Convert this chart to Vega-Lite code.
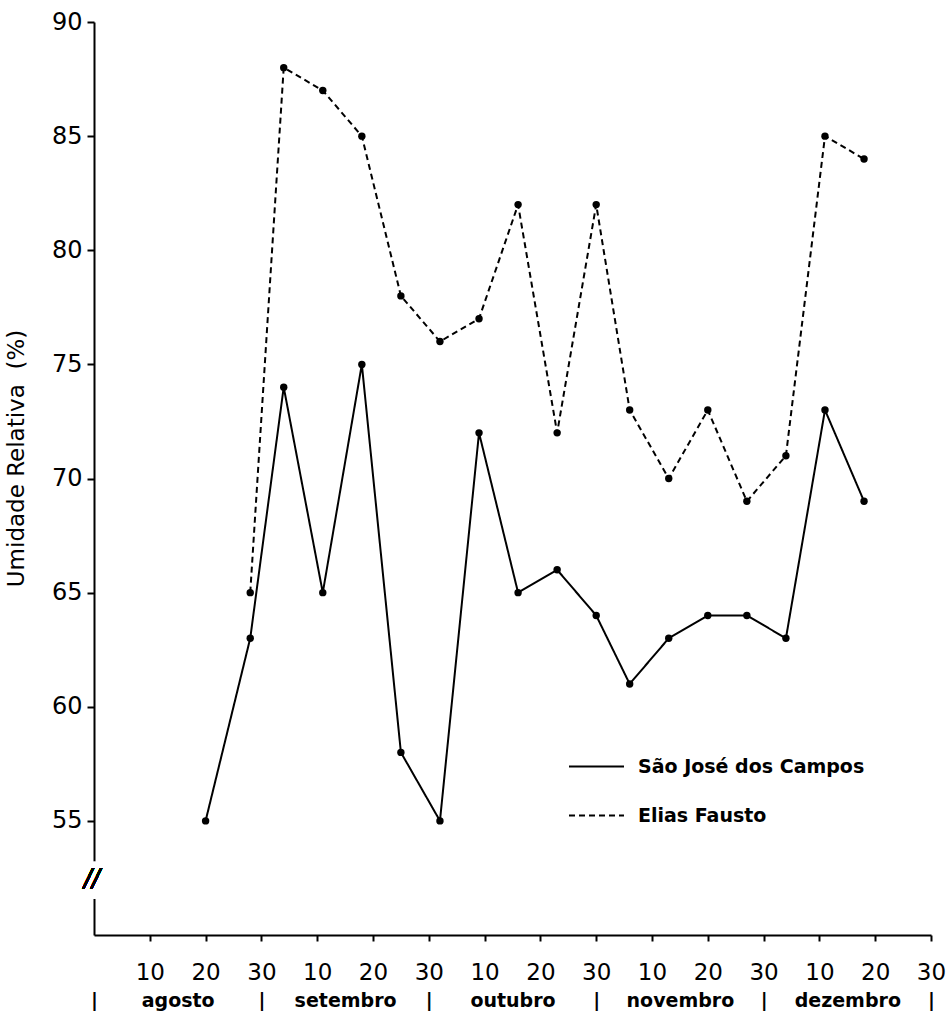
{
  "$schema": "https://vega.github.io/schema/vega-lite/v6.json",
  "width": 837,
  "height": 913,
  "autosize": "none",
  "padding": {"left": 94, "top": 22, "right": 21, "bottom": 76},
  "background": "white",
  "config": {"view": {"stroke": null}, "font": "DejaVu Sans"},
  "data": {
    "values": [
      {"station": "São José dos Campos", "day": 20, "umidade": 55},
      {"station": "São José dos Campos", "day": 28, "umidade": 63},
      {"station": "São José dos Campos", "day": 34, "umidade": 74},
      {"station": "São José dos Campos", "day": 41, "umidade": 65},
      {"station": "São José dos Campos", "day": 48, "umidade": 75},
      {"station": "São José dos Campos", "day": 55, "umidade": 58},
      {"station": "São José dos Campos", "day": 62, "umidade": 55},
      {"station": "São José dos Campos", "day": 69, "umidade": 72},
      {"station": "São José dos Campos", "day": 76, "umidade": 65},
      {"station": "São José dos Campos", "day": 83, "umidade": 66},
      {"station": "São José dos Campos", "day": 90, "umidade": 64},
      {"station": "São José dos Campos", "day": 96, "umidade": 61},
      {"station": "São José dos Campos", "day": 103, "umidade": 63},
      {"station": "São José dos Campos", "day": 110, "umidade": 64},
      {"station": "São José dos Campos", "day": 117, "umidade": 64},
      {"station": "São José dos Campos", "day": 124, "umidade": 63},
      {"station": "São José dos Campos", "day": 131, "umidade": 73},
      {"station": "São José dos Campos", "day": 138, "umidade": 69},
      {"station": "Elias Fausto", "day": 28, "umidade": 65},
      {"station": "Elias Fausto", "day": 34, "umidade": 88},
      {"station": "Elias Fausto", "day": 41, "umidade": 87},
      {"station": "Elias Fausto", "day": 48, "umidade": 85},
      {"station": "Elias Fausto", "day": 55, "umidade": 78},
      {"station": "Elias Fausto", "day": 62, "umidade": 76},
      {"station": "Elias Fausto", "day": 69, "umidade": 77},
      {"station": "Elias Fausto", "day": 76, "umidade": 82},
      {"station": "Elias Fausto", "day": 83, "umidade": 72},
      {"station": "Elias Fausto", "day": 90, "umidade": 82},
      {"station": "Elias Fausto", "day": 96, "umidade": 73},
      {"station": "Elias Fausto", "day": 103, "umidade": 70},
      {"station": "Elias Fausto", "day": 110, "umidade": 73},
      {"station": "Elias Fausto", "day": 117, "umidade": 69},
      {"station": "Elias Fausto", "day": 124, "umidade": 71},
      {"station": "Elias Fausto", "day": 131, "umidade": 85},
      {"station": "Elias Fausto", "day": 138, "umidade": 84}
    ]
  },
  "resolve": {"axis": {"x": "independent"}},
  "layer": [
    {
      "mark": {"type": "line", "color": "black", "strokeWidth": 2},
      "encoding": {
        "x": {
          "field": "day", "type": "quantitative",
          "scale": {"domain": [0, 150], "nice": false, "zero": false},
          "axis": {
            "orient": "bottom", "title": null, "grid": false,
            "values": [10, 20, 30, 40, 50, 60, 70, 80, 90, 100, 110, 120, 130, 140, 150],
            "labelExpr": "datum.value % 30 == 0 ? '30' : '' + (datum.value % 30)",
            "domainColor": "black", "domainWidth": 2,
            "tickColor": "black", "tickWidth": 2, "tickSize": 6,
            "labelColor": "black", "labelFont": "DejaVu Sans", "labelFontSize": 23,
            "labelPadding": 20, "labelFlush": false, "labelOverlap": false, "labelBound": false
          }
        },
        "y": {
          "field": "umidade", "type": "quantitative",
          "scale": {"domain": [50, 90], "nice": false, "zero": false},
          "axis": {
            "title": "Umidade Relativa \u00a0(%)", "grid": false,
            "values": [55, 60, 65, 70, 75, 80, 85, 90],
            "domainColor": "black", "domainWidth": 2,
            "tickColor": "black", "tickWidth": 2, "tickSize": 7,
            "labelColor": "black", "labelFont": "DejaVu Sans", "labelFontSize": 24,
            "labelPadding": 5, "labelFlush": false, "labelOverlap": false,
            "titleFont": "DejaVu Sans", "titleFontSize": 23, "titleFontWeight": "normal",
            "titleColor": "black", "titleX": -66, "titleY": 436, "titleAngle": -90,
            "titleBaseline": "bottom", "titleAlign": "center"
          }
        },
        "strokeDash": {
          "field": "station", "type": "nominal",
          "scale": {"domain": ["São José dos Campos", "Elias Fausto"], "range": [[1, 0], [6, 4]]},
          "legend": {
            "orient": "none", "legendX": 474, "legendY": 722, "title": null,
            "symbolType": "stroke", "symbolSize": 3025, "symbolStrokeWidth": 2,
            "symbolStrokeColor": "black", "labelFont": "DejaVu Sans", "labelFontSize": 19,
            "labelFontWeight": "bold", "labelLimit": 500,
            "labelColor": "black", "labelOffset": 13, "clipHeight": 45, "rowPadding": 4,
            "padding": 0
          }
        }
      }
    },
    {
      "mark": {"type": "point", "filled": true, "color": "black", "size": 55, "opacity": 1},
      "encoding": {
        "x": {
          "field": "day", "type": "quantitative",
          "axis": {
            "orient": "bottom", "title": null, "grid": false, "domain": false, "ticks": false, "tickSize": 0,
            "values": [0, 15, 30, 45, 60, 75, 90, 105, 120, 135, 150],
            "labelExpr": "datum.value % 30 == 0 ? '|' : (datum.value == 15 ? 'agosto' : datum.value == 45 ? 'setembro' : datum.value == 75 ? 'outubro' : datum.value == 105 ? 'novembro' : 'dezembro')",
            "labelColor": "black", "labelFont": "DejaVu Sans", "labelFontSize": 19, "labelFontWeight": "bold",
            "labelPadding": 56, "labelFlush": false, "labelOverlap": false, "labelBound": false
          }
        },
        "y": {"field": "umidade", "type": "quantitative"}
      }
    },
    {
      "mark": {"type": "rule", "color": "white", "strokeWidth": 8},
      "encoding": {
        "x": {"datum": 0, "type": "quantitative", "axis": null},
        "y": {"datum": 53.2, "type": "quantitative"},
        "y2": {"datum": 51.6}
      }
    },
    {
      "mark": {"type": "text", "text": "//", "font": "DejaVu Sans", "fontSize": 24, "fontStyle": "italic", "color": "black", "align": "center", "baseline": "middle", "dx": -2},
      "encoding": {
        "x": {"datum": 0, "type": "quantitative", "axis": null},
        "y": {"datum": 52.45, "type": "quantitative"}
      }
    }
  ]
}
